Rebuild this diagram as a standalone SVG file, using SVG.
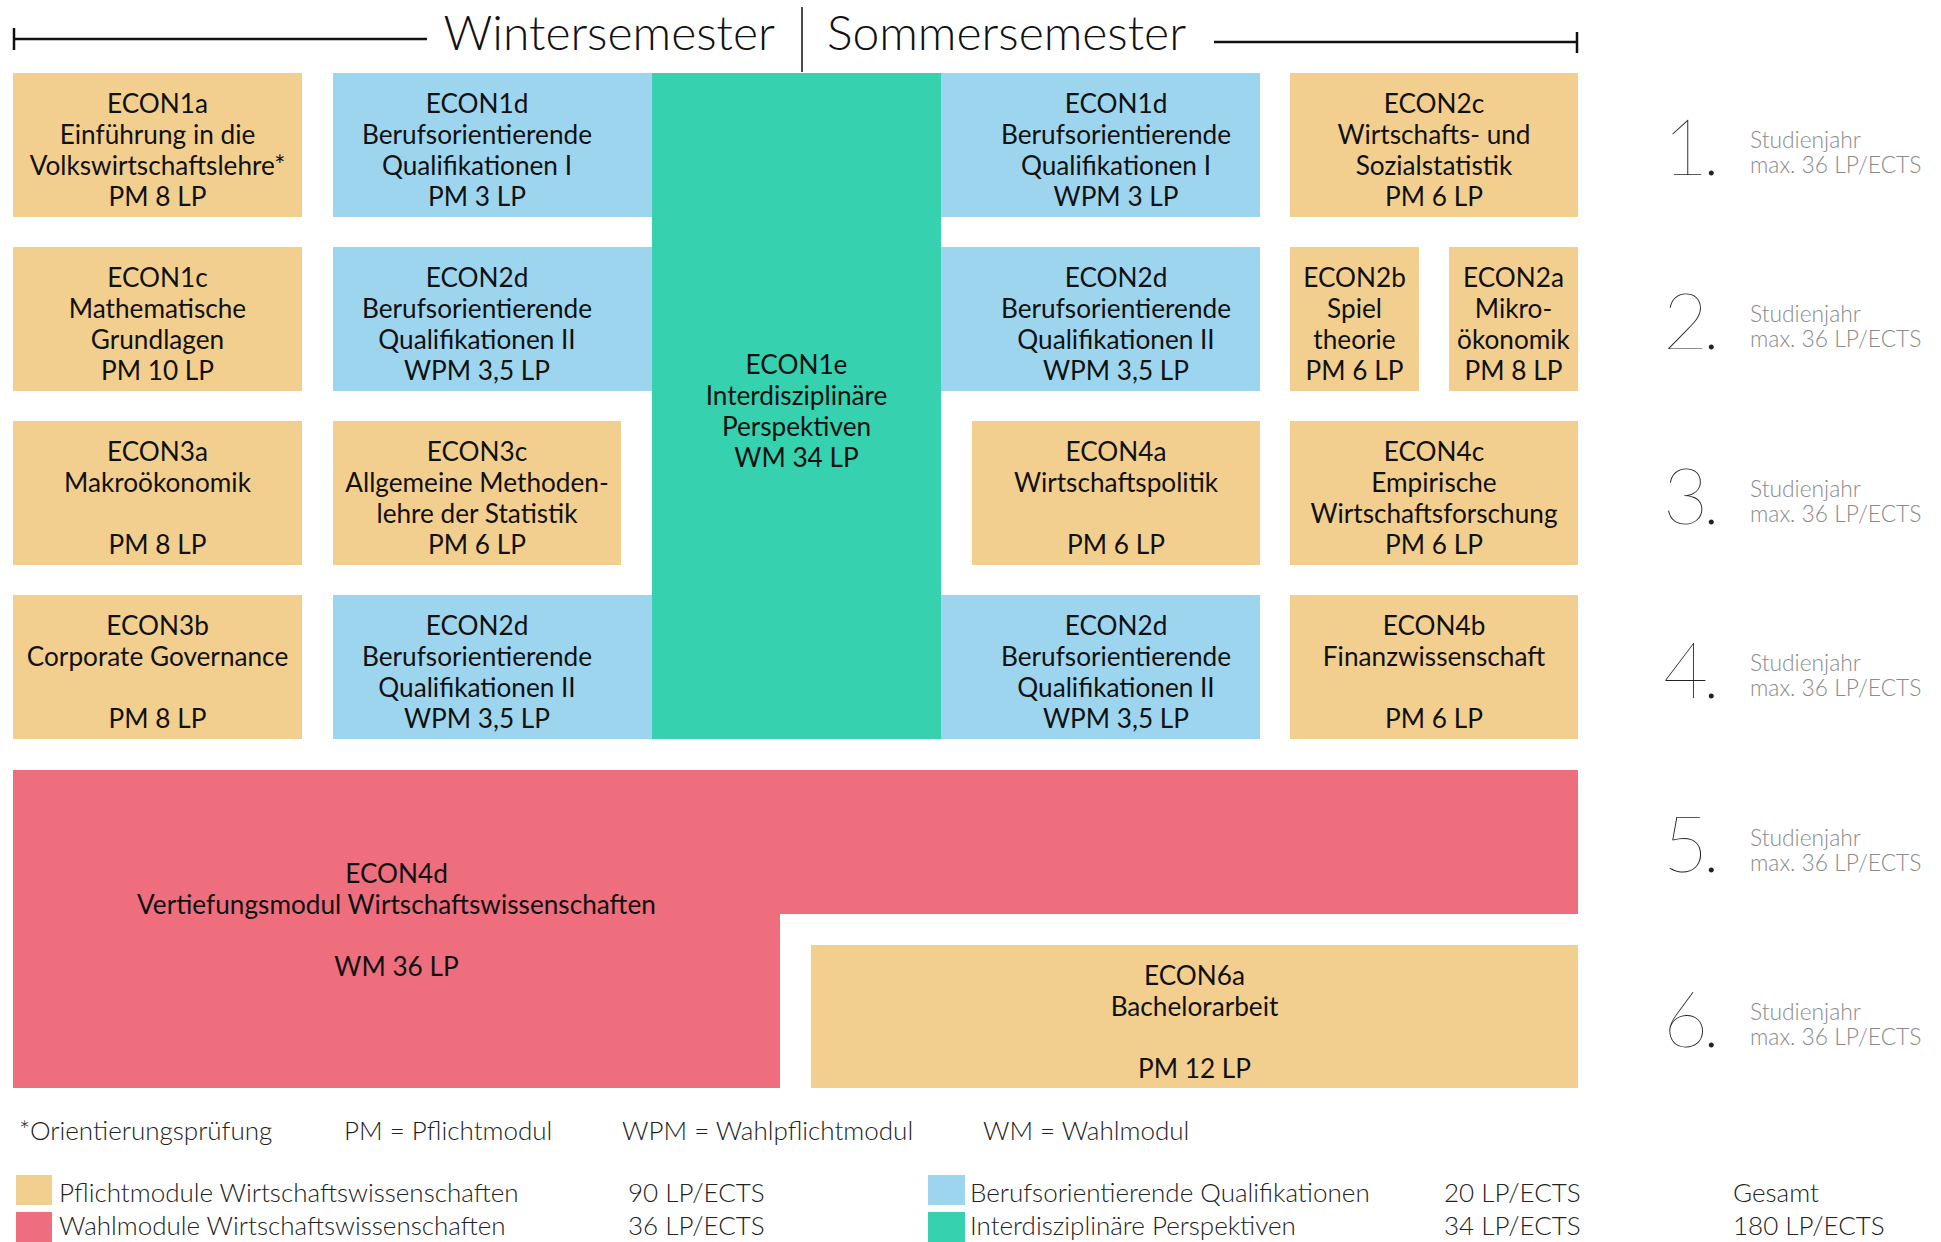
<svg xmlns="http://www.w3.org/2000/svg" width="1941" height="1242" viewBox="0 0 1941 1242">
<style>
.o{fill:#F2CF8E}
.b{fill:#9DD5EE}
.g{fill:#36D1AE}
.r{fill:#EE6E7E}
.t{font-family:Lato,"Liberation Sans",sans-serif;font-size:26.2px;fill:#111;text-anchor:middle}
.h{font-family:Lato,"Liberation Sans",sans-serif;font-weight:300;font-size:48px;fill:#111}
.y{font-family:Lato,"Liberation Sans",sans-serif;font-weight:100;font-size:78px;fill:#222;letter-spacing:-6px}
.s{font-family:Lato,"Liberation Sans",sans-serif;font-weight:300;font-size:22.8px;fill:#8a8a8a}
.l{font-family:Lato,"Liberation Sans",sans-serif;font-weight:300;font-size:26px;fill:#222}
.ln{stroke:#111;fill:none}
</style>
<rect width="1941" height="1242" fill="#fff"/>
<g id="header">
<line class="ln" x1="13" y1="39" x2="427" y2="39" stroke-width="2.5"/>
<line class="ln" x1="14" y1="28" x2="14" y2="50" stroke-width="2.5"/>
<line class="ln" x1="1214" y1="42" x2="1578" y2="42" stroke-width="2.5"/>
<line class="ln" x1="1577" y1="32" x2="1577" y2="53" stroke-width="2.5"/>
<line class="ln" x1="802" y1="7" x2="802" y2="72" stroke-width="1.5"/>
<text class="h" x="775" y="50" text-anchor="end">Wintersemester</text>
<text class="h" x="827" y="50">Sommersemester</text>
</g>
<g id="ECON1e"><rect class="g" x="652" y="73" width="289" height="666"/>
<text class="t"><tspan x="796.5" y="374">ECON1e</tspan><tspan x="796.5" y="405">Interdisziplinäre</tspan><tspan x="796.5" y="436">Perspektiven</tspan><tspan x="796.5" y="467">WM 34 LP</tspan></text></g>
<g id="ECON1a"><rect class="o" x="13" y="73" width="289" height="144"/>
<text class="t"><tspan x="157.5" y="113">ECON1a</tspan><tspan x="157.5" y="144">Einführung in die</tspan><tspan x="157.5" y="175">Volkswirtschaftslehre*</tspan><tspan x="157.5" y="206">PM 8 LP</tspan></text></g>
<g id="ECON1d-ws"><rect class="b" x="333" y="73" width="319" height="144"/>
<text class="t"><tspan x="477" y="113">ECON1d</tspan><tspan x="477" y="144">Berufsorientierende</tspan><tspan x="477" y="175">Qualifikationen I</tspan><tspan x="477" y="206">PM 3 LP</tspan></text></g>
<g id="ECON1d-ss"><rect class="b" x="941" y="73" width="319" height="144"/>
<text class="t"><tspan x="1116" y="113">ECON1d</tspan><tspan x="1116" y="144">Berufsorientierende</tspan><tspan x="1116" y="175">Qualifikationen I</tspan><tspan x="1116" y="206">WPM 3 LP</tspan></text></g>
<g id="ECON2c"><rect class="o" x="1290" y="73" width="288" height="144"/>
<text class="t"><tspan x="1434" y="113">ECON2c</tspan><tspan x="1434" y="144">Wirtschafts- und</tspan><tspan x="1434" y="175">Sozialstatistik</tspan><tspan x="1434" y="206">PM 6 LP</tspan></text></g>
<g id="ECON1c"><rect class="o" x="13" y="247" width="289" height="144"/>
<text class="t"><tspan x="157.5" y="287">ECON1c</tspan><tspan x="157.5" y="318">Mathematische</tspan><tspan x="157.5" y="349">Grundlagen</tspan><tspan x="157.5" y="380">PM 10 LP</tspan></text></g>
<g id="ECON2d-ws1"><rect class="b" x="333" y="247" width="319" height="144"/>
<text class="t"><tspan x="477" y="287">ECON2d</tspan><tspan x="477" y="318">Berufsorientierende</tspan><tspan x="477" y="349">Qualifikationen II</tspan><tspan x="477" y="380">WPM 3,5 LP</tspan></text></g>
<g id="ECON2d-ss1"><rect class="b" x="941" y="247" width="319" height="144"/>
<text class="t"><tspan x="1116" y="287">ECON2d</tspan><tspan x="1116" y="318">Berufsorientierende</tspan><tspan x="1116" y="349">Qualifikationen II</tspan><tspan x="1116" y="380">WPM 3,5 LP</tspan></text></g>
<g id="ECON2b"><rect class="o" x="1290" y="247" width="129" height="144"/>
<text class="t"><tspan x="1354.5" y="287">ECON2b</tspan><tspan x="1354.5" y="318">Spiel</tspan><tspan x="1354.5" y="349">theorie</tspan><tspan x="1354.5" y="380">PM 6 LP</tspan></text></g>
<g id="ECON2a"><rect class="o" x="1449" y="247" width="129" height="144"/>
<text class="t"><tspan x="1513.5" y="287">ECON2a</tspan><tspan x="1513.5" y="318">Mikro-</tspan><tspan x="1513.5" y="349">ökonomik</tspan><tspan x="1513.5" y="380">PM 8 LP</tspan></text></g>
<g id="ECON3a"><rect class="o" x="13" y="421" width="289" height="144"/>
<text class="t"><tspan x="157.5" y="461">ECON3a</tspan><tspan x="157.5" y="492">Makroökonomik</tspan><tspan x="157.5" y="554">PM 8 LP</tspan></text></g>
<g id="ECON3c"><rect class="o" x="333" y="421" width="288" height="144"/>
<text class="t"><tspan x="477" y="461">ECON3c</tspan><tspan x="477" y="492">Allgemeine Methoden-</tspan><tspan x="477" y="523">lehre der Statistik</tspan><tspan x="477" y="554">PM 6 LP</tspan></text></g>
<g id="ECON4a"><rect class="o" x="972" y="421" width="288" height="144"/>
<text class="t"><tspan x="1116" y="461">ECON4a</tspan><tspan x="1116" y="492">Wirtschaftspolitik</tspan><tspan x="1116" y="554">PM 6 LP</tspan></text></g>
<g id="ECON4c"><rect class="o" x="1290" y="421" width="288" height="144"/>
<text class="t"><tspan x="1434" y="461">ECON4c</tspan><tspan x="1434" y="492">Empirische</tspan><tspan x="1434" y="523">Wirtschaftsforschung</tspan><tspan x="1434" y="554">PM 6 LP</tspan></text></g>
<g id="ECON3b"><rect class="o" x="13" y="595" width="289" height="144"/>
<text class="t"><tspan x="157.5" y="635">ECON3b</tspan><tspan x="157.5" y="666">Corporate Governance</tspan><tspan x="157.5" y="728">PM 8 LP</tspan></text></g>
<g id="ECON2d-ws2"><rect class="b" x="333" y="595" width="319" height="144"/>
<text class="t"><tspan x="477" y="635">ECON2d</tspan><tspan x="477" y="666">Berufsorientierende</tspan><tspan x="477" y="697">Qualifikationen II</tspan><tspan x="477" y="728">WPM 3,5 LP</tspan></text></g>
<g id="ECON2d-ss2"><rect class="b" x="941" y="595" width="319" height="144"/>
<text class="t"><tspan x="1116" y="635">ECON2d</tspan><tspan x="1116" y="666">Berufsorientierende</tspan><tspan x="1116" y="697">Qualifikationen II</tspan><tspan x="1116" y="728">WPM 3,5 LP</tspan></text></g>
<g id="ECON4b"><rect class="o" x="1290" y="595" width="288" height="144"/>
<text class="t"><tspan x="1434" y="635">ECON4b</tspan><tspan x="1434" y="666">Finanzwissenschaft</tspan><tspan x="1434" y="728">PM 6 LP</tspan></text></g>
<g id="ECON4d"><path class="r" d="M13 770H1578V914H780V1088H13Z"/>
<text class="t"><tspan x="396.5" y="883">ECON4d</tspan><tspan x="396.5" y="914">Vertiefungsmodul Wirtschaftswissenschaften</tspan><tspan x="396.5" y="976">WM 36 LP</tspan></text></g>
<g id="ECON6a"><rect class="o" x="811" y="945" width="767" height="143"/>
<text class="t"><tspan x="1194.5" y="985">ECON6a</tspan><tspan x="1194.5" y="1016">Bachelorarbeit</tspan><tspan x="1194.5" y="1078">PM 12 LP</tspan></text></g>
<g id="connectors"></g>
<g id="years">
<text class="y" x="1663" y="175">1.</text><text class="s"><tspan x="1750" y="148">Studienjahr</tspan><tspan x="1750" y="173">max. 36 LP/ECTS</tspan></text>
<text class="y" x="1663" y="349">2.</text><text class="s"><tspan x="1750" y="322">Studienjahr</tspan><tspan x="1750" y="347">max. 36 LP/ECTS</tspan></text>
<text class="y" x="1663" y="524">3.</text><text class="s"><tspan x="1750" y="497">Studienjahr</tspan><tspan x="1750" y="522">max. 36 LP/ECTS</tspan></text>
<text class="y" x="1663" y="698">4.</text><text class="s"><tspan x="1750" y="671">Studienjahr</tspan><tspan x="1750" y="696">max. 36 LP/ECTS</tspan></text>
<text class="y" x="1663" y="872">5.</text><text class="s"><tspan x="1750" y="846">Studienjahr</tspan><tspan x="1750" y="871">max. 36 LP/ECTS</tspan></text>
<text class="y" x="1663" y="1047">6.</text><text class="s"><tspan x="1750" y="1020">Studienjahr</tspan><tspan x="1750" y="1045">max. 36 LP/ECTS</tspan></text>
</g>
<g id="legend">
<text class="l" x="19" y="1140">*Orientierungsprüfung</text>
<text class="l" x="344" y="1140">PM = Pflichtmodul</text>
<text class="l" x="622" y="1140">WPM = Wahlpflichtmodul</text>
<text class="l" x="983" y="1140">WM = Wahlmodul</text>
<rect class="o" x="16" y="1175" width="36" height="30"/>
<text class="l" x="59" y="1202">Pflichtmodule Wirtschaftswissenschaften</text>
<text class="l" x="628" y="1202">90 LP/ECTS</text>
<rect class="b" x="928" y="1175" width="37" height="30"/>
<text class="l" x="970" y="1202">Berufsorientierende Qualifikationen</text>
<text class="l" x="1444" y="1202">20 LP/ECTS</text>
<text class="l" x="1733" y="1202">Gesamt</text>
<rect class="r" x="16" y="1212" width="36" height="30"/>
<text class="l" x="59" y="1235">Wahlmodule Wirtschaftswissenschaften</text>
<text class="l" x="628" y="1235">36 LP/ECTS</text>
<rect class="g" x="928" y="1212" width="37" height="30"/>
<text class="l" x="970" y="1235">Interdisziplinäre Perspektiven</text>
<text class="l" x="1444" y="1235">34 LP/ECTS</text>
<text class="l" x="1733" y="1235">180 LP/ECTS</text>
</g>
</svg>
